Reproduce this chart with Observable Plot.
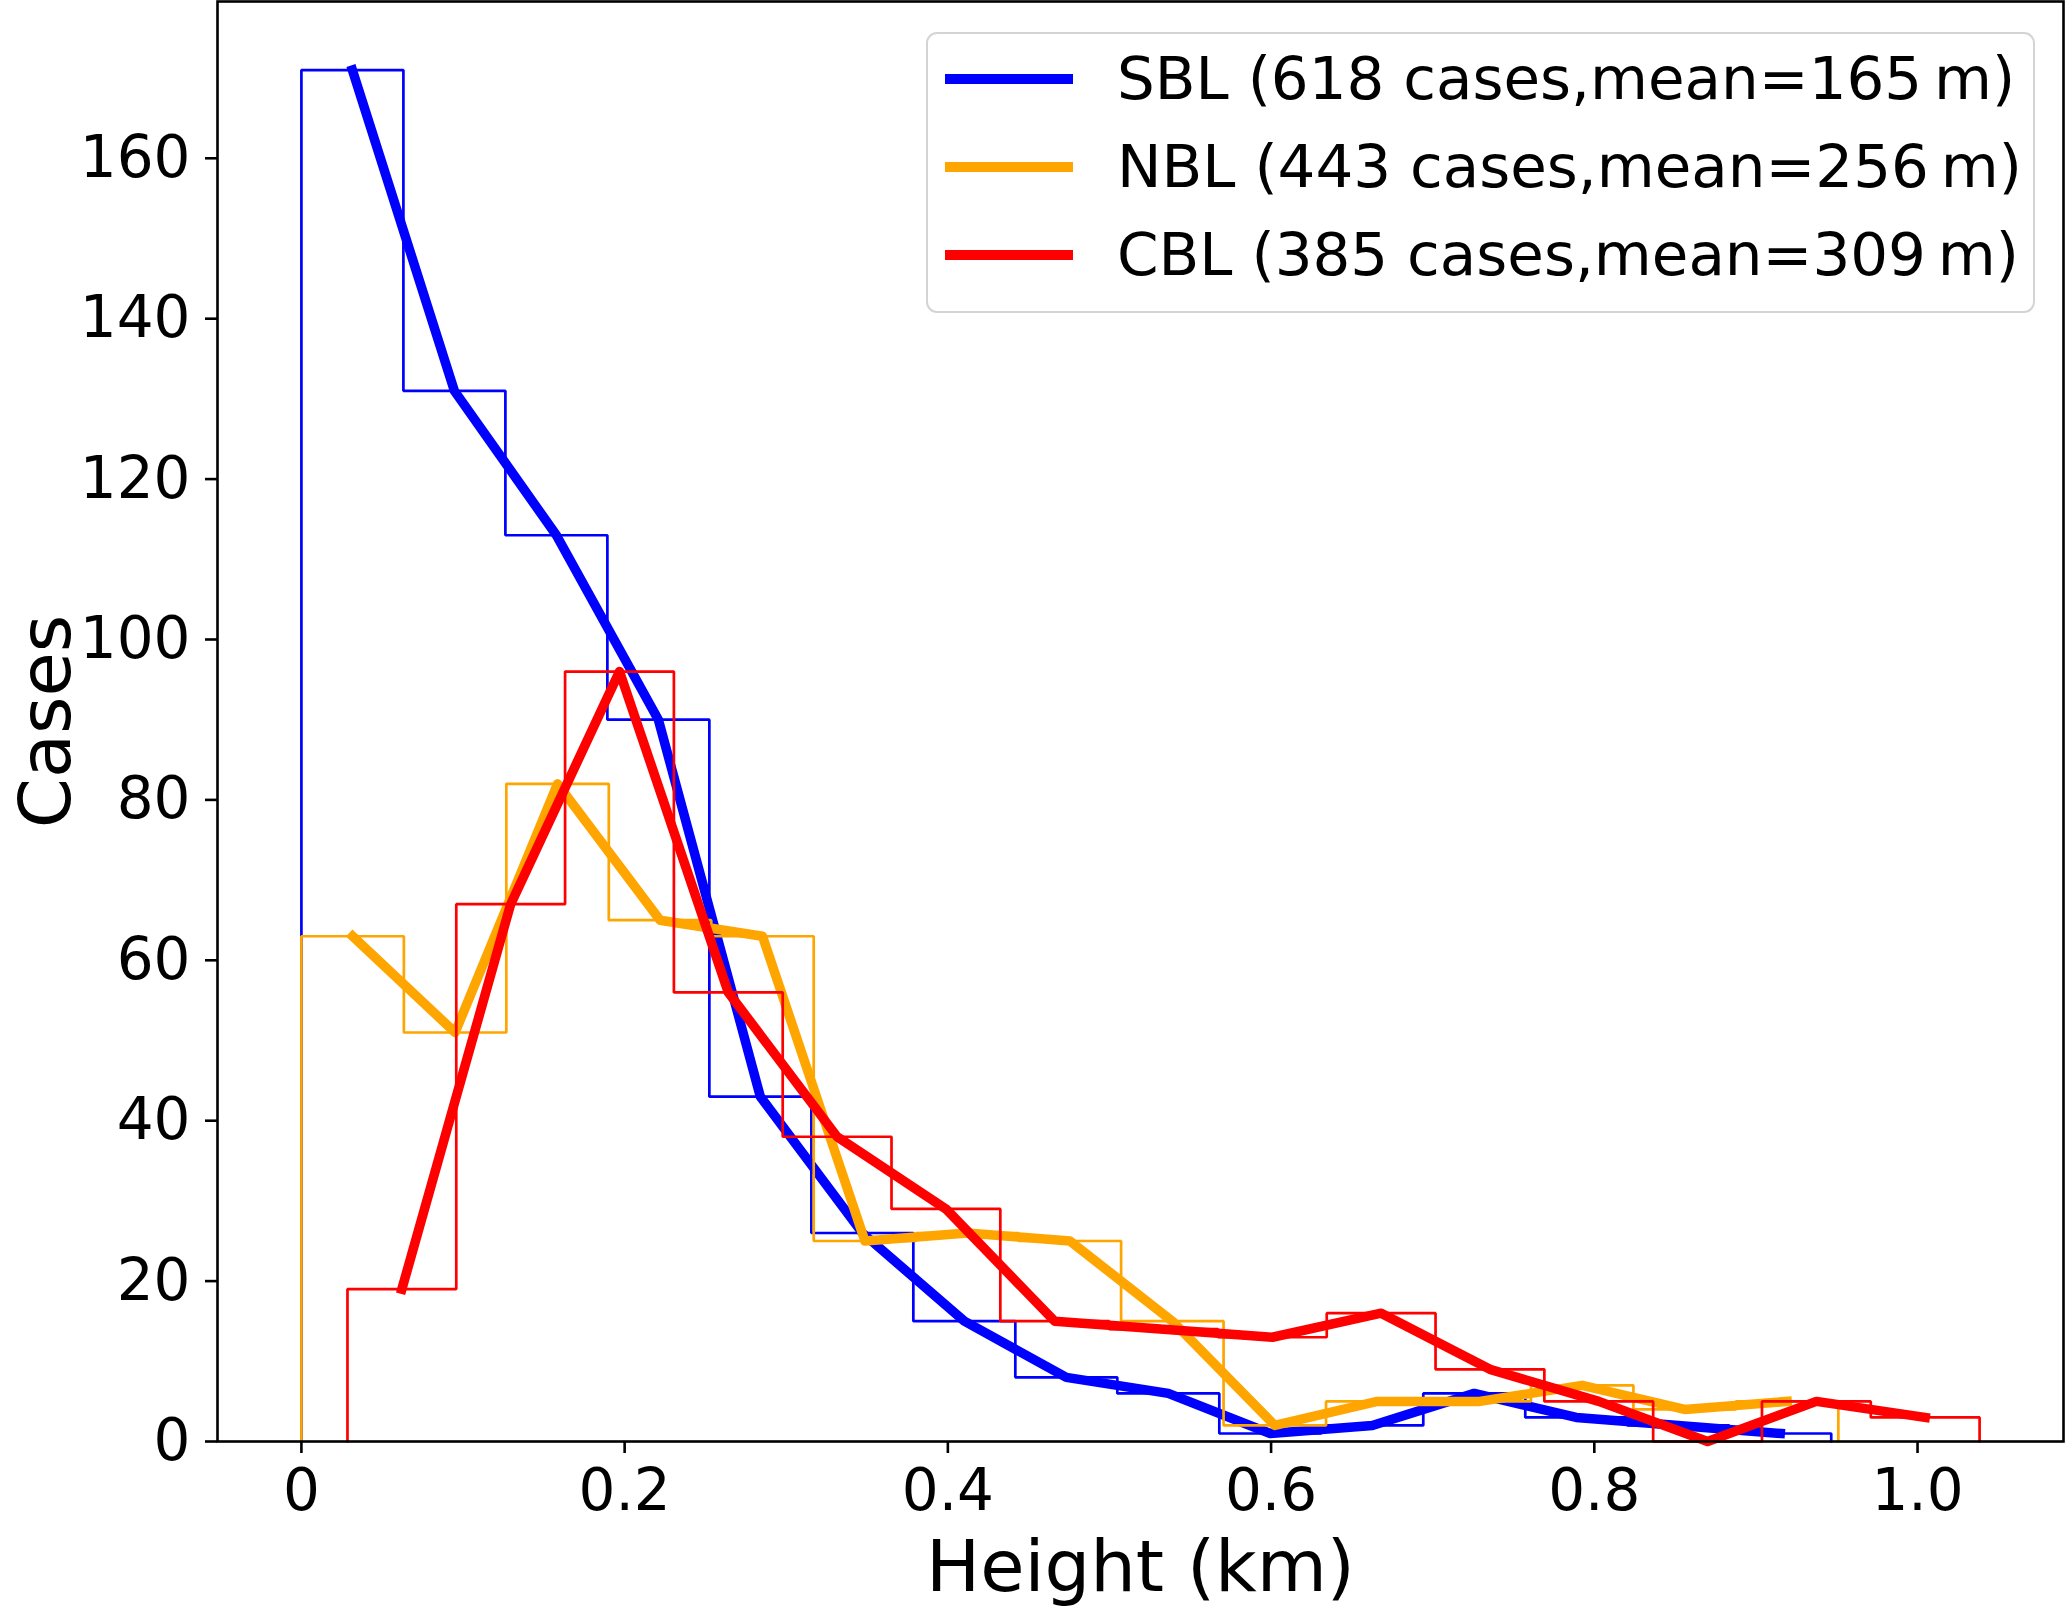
<!DOCTYPE html>
<html>
<head>
<meta charset="utf-8">
<script src="https://cdn.jsdelivr.net/npm/d3@7"></script>
<script src="https://cdn.jsdelivr.net/npm/@observablehq/plot@0.6"></script>
<style>
  body { margin: 0; background: #fff; }
  #chart { position: relative; width: 2067px; height: 1606px; font-family: "DejaVu Sans", sans-serif; }
  #chart svg { display: block; }
  .legend {
    position: absolute; left: 926px; top: 32px; width: 1109px; height: 281px;
    box-sizing: border-box; border: 2.6px solid #d4d4d4; border-radius: 11px;
    background: rgba(255, 255, 255, 0.8); padding-top: 1px;
  }
  .row { display: flex; align-items: center; height: 88px; }
  .row .swatch { margin-left: 17px; width: 128px; height: 9.5px; }
  .row .name { margin-left: 44px; font-size: 59.5px; color: #000; white-space: nowrap; line-height: 1; }
</style>
</head>
<body>
<div id="chart"></div>
<script>
// bin counts (15 bins per regime)
const sblCounts = [171, 131, 113, 90, 43, 26, 15, 8, 6, 1, 2, 6, 3, 2, 1];
const nblCounts = [63, 51, 82, 65, 63, 25, 26, 25, 15, 2, 5, 5, 7, 4, 5];
const cblCounts = [19, 67, 96, 56, 38, 29, 15, 14, 13, 16, 9, 5, 0, 5, 3];

// histogram range (km) of each regime
const sblRange = [0, 0.9466];
const nblRange = [0, 0.951];
const cblRange = [0.0285, 1.0384];

const names = [
  "SBL (618 cases,mean=165\u2009m)",
  "NBL (443 cases,mean=256\u2009m)",
  "CBL (385 cases,mean=309\u2009m)"
];
const colors = ["blue", "orange", "red"];

const xTicks = [0, 0.2, 0.4, 0.6, 0.8, 1.0];
const yTicks = [0, 20, 40, 60, 80, 100, 120, 140, 160];

// equal-width bin edges
const edges = (r, n) => d3.range(n + 1).map((i) => r[0] + ((r[1] - r[0]) * i) / n);

function series(counts, range, name) {
  const e = edges(range, counts.length);
  const step = [{x: e[0], y: 0, name}]
    .concat(counts.map((c, i) => ({x: e[i], y: c, name})))
    .concat([{x: e[counts.length], y: 0, name}]);
  const mid = counts.map((c, i) => ({x: (e[i] + e[i + 1]) / 2, y: c, name}));
  return {step, mid};
}

const all = [
  series(sblCounts, sblRange, names[0]),
  series(nblCounts, nblRange, names[1]),
  series(cblCounts, cblRange, names[2])
];

const xmax = d3.max([sblRange[1], nblRange[1], cblRange[1]]);
const ymax = d3.max([...sblCounts, ...nblCounts, ...cblCounts]);

const marks = [];
all.forEach((s, i) => {
  marks.push(Plot.line(s.step, {x: "x", y: "y", curve: "step-after", stroke: colors[i], strokeWidth: 2.7, strokeLinejoin: "miter"}));
  marks.push(Plot.line(s.mid, {x: "x", y: "y", stroke: colors[i], strokeWidth: 9.5, strokeLinejoin: "round", strokeLinecap: "square"}));
});

const plot = Plot.plot({
  width: 2067,
  height: 1606,
  marginLeft: 217,
  marginRight: 4,
  marginTop: 1,
  marginBottom: 165,
  style: {fontFamily: "DejaVu Sans", fontSize: "58px", color: "black", background: "white"},
  x: {domain: [-0.05 * xmax, 1.05 * xmax]},
  y: {domain: [0, 1.05 * ymax]},
  marks: [
    ...marks,
    Plot.frame({stroke: "black", strokeWidth: 2.6}),
    Plot.axisX({ticks: xTicks, tickFormat: (d) => (d === 0 ? "0" : d.toFixed(1)), tickSize: 12, tickPadding: 15, strokeWidth: 2.6, fontSize: 58, label: null}),
    Plot.axisX({ticks: [], label: "Height (km)", labelAnchor: "center", labelArrow: "none", labelOffset: 149, fontSize: 72}),
    Plot.axisY({ticks: yTicks, tickSize: 12, tickPadding: 15, strokeWidth: 2.6, fontSize: 58, label: null}),
    Plot.axisY({ticks: [], label: "Cases", labelAnchor: "center", labelArrow: "none", labelOffset: 199, fontSize: 72})
  ]
});

const chart = document.getElementById("chart");
chart.appendChild(plot);

const legend = document.createElement("div");
legend.className = "legend";
names.forEach((n, i) => {
  const row = document.createElement("div");
  row.className = "row";
  const sw = document.createElement("div");
  sw.className = "swatch";
  sw.style.background = colors[i];
  const t = document.createElement("div");
  t.className = "name";
  t.textContent = n;
  row.appendChild(sw);
  row.appendChild(t);
  legend.appendChild(row);
});
chart.appendChild(legend);
</script>
</body>
</html>
